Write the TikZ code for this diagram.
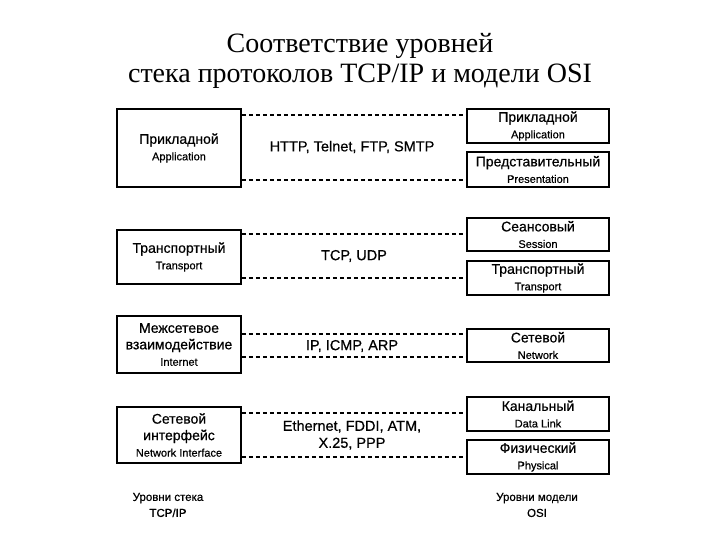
\documentclass[tikz,border=0pt]{standalone}
\usepackage{fontspec}
\setmainfont{Liberation Serif}
\newfontfamily\arialf[FakeBold=0.6]{Liberation Sans}
\begin{document}
\begin{tikzpicture}[x=1pt,y=-1pt,
  layerbox/.style={draw,line width=1.5pt,minimum width=124pt,inner sep=0pt,align=center,font=\arialf\fontsize{14}{16.5}\selectfont},
  osibox/.style={draw,line width=1.5pt,minimum width=142pt,inner sep=0pt,align=center,font=\arialf\fontsize{14}{16.5}\selectfont},
  dashline/.style={dash pattern=on 4pt off 3pt,line width=1.1pt},
  proto/.style={font=\arialf\fontsize{14.5}{17}\selectfont,align=center,inner sep=0pt},
  caption/.style={font=\arialf\fontsize{11.5}{16}\selectfont,align=center,inner sep=0pt},
  titletext/.style={font=\fontsize{28}{30}\selectfont,anchor=base,inner sep=0pt}]
\newcommand{\subl}[1]{{\fontsize{11}{12}\selectfont #1}}
\useasboundingbox (0,0) rectangle (720,540);
% title
\node[titletext] (T1) at (360,53) {Соответствие уровней};
\node[titletext] (T2) at (360,83) {стека протоколов TCP/IP и модели OSI};
% TCP/IP layers
\node[layerbox,minimum height=78pt] (L1) at (179,148) {Прикладной\\\subl{Application}};
\node[layerbox,minimum height=54pt] (L2) at (179,257) {Транспортный\\\subl{Transport}};
\node[layerbox,minimum height=57pt] (L3) at (179,344.5) {Межсетевое\\взаимодействие\\\subl{Internet}};
\node[layerbox,minimum height=56pt] (L4) at (179,435) {Сетевой\\интерфейс\\\subl{Network Interface}};
% OSI layers
\node[osibox,minimum height=34pt] (R1) at (538,126) {Прикладной\\\subl{Application}};
\node[osibox,minimum height=35pt] (R2) at (538,169.5) {Представительный\\\subl{Presentation}};
\node[osibox,minimum height=33pt] (R3) at (538,234.5) {Сеансовый\\\subl{Session}};
\node[osibox,minimum height=34pt] (R4) at (538,278) {Транспортный\\\subl{Transport}};
\node[osibox,minimum height=33pt] (R5) at (538,345.5) {Сетевой\\\subl{Network}};
\node[osibox,minimum height=34pt] (R6) at (538,414) {Канальный\\\subl{Data Link}};
\node[osibox,minimum height=34pt] (R7) at (538,457) {Физический\\\subl{Physical}};
% protocols
\node[proto] (P1) at (352,147) {HTTP, Telnet, FTP, SMTP};
\node[proto] (P2) at (354,256) {TCP, UDP};
\node[proto] (P3) at (352,346) {IP, ICMP, ARP};
\node[proto] (P4) at (352,435) {Ethernet, FDDI, ATM,\\X.25, PPP};
% dashed connectors
\draw[dashline] (L1.east |- 0,115) -- (R1.west |- 0,115);
\draw[dashline] (L1.east |- 0,180) -- (R2.west |- 0,180);
\draw[dashline] (L2.east |- 0,234) -- (R3.west |- 0,234);
\draw[dashline] (L2.east |- 0,278) -- (R4.west |- 0,278);
\draw[dashline] (L3.east |- 0,334) -- (R5.west |- 0,334);
\draw[dashline] (L3.east |- 0,357) -- (R5.west |- 0,357);
\draw[dashline] (L4.east |- 0,413) -- (R6.west |- 0,413);
\draw[dashline] (L4.east |- 0,457) -- (R7.west |- 0,457);
% captions
\node[caption] (B1) at (168,505) {Уровни стека\\TCP/IP};
\node[caption] (B2) at (537,505) {Уровни модели\\OSI};
\end{tikzpicture}
\end{document}
